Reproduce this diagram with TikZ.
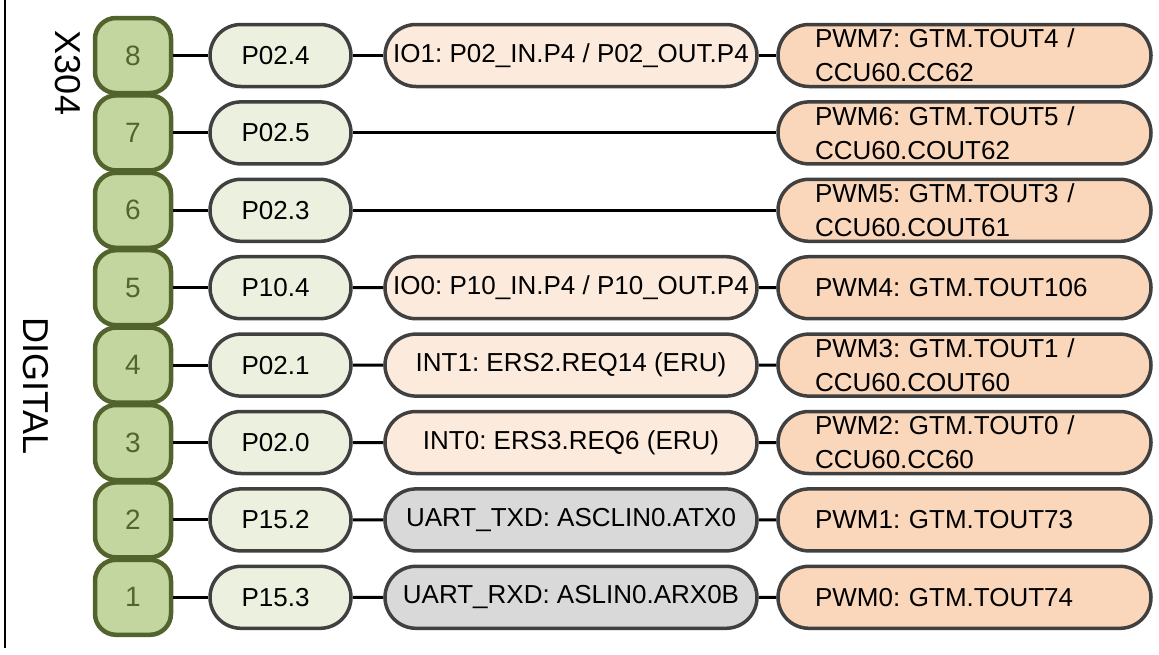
\documentclass[tikz,border=0pt]{standalone}
\usepackage{fontspec}
\setmainfont{Liberation Sans}
\frenchspacing
\definecolor{pinfill}{RGB}{196,214,160}
\definecolor{pindraw}{RGB}{82,99,46}
\definecolor{pintext}{RGB}{84,100,46}
\definecolor{portfill}{RGB}{235,241,222}
\definecolor{iofill}{RGB}{252,235,220}
\definecolor{pwmfill}{RGB}{250,215,187}
\definecolor{uartfill}{RGB}{217,217,217}
\definecolor{boxdraw}{RGB}{64,64,64}
\tikzset{
  pin/.style={draw=pindraw, line width=4.5pt, fill=pinfill, rounded corners=21pt,
    minimum width=76pt, minimum height=75pt, inner sep=0pt, text=pintext,
    font=\fontsize{28}{30}\selectfont},
  pill/.style={draw=boxdraw, line width=3.5pt, rounded corners=31pt,
    minimum height=62pt, inner sep=0pt, font=\fontsize{26}{34}\selectfont},
  portbox/.style={pill, fill=portfill, minimum width=141pt},
  funcbox/.style={pill, fill=iofill, minimum width=372pt},
  uartbox/.style={pill, fill=uartfill, minimum width=372pt},
  pwmbox/.style={pill, fill=pwmfill, minimum width=373pt, text width=299pt,
    align=left, inner xsep=0pt},
  wire/.style={line width=3pt},
  side/.style={font=\fontsize{36}{40}\selectfont, rotate=-90}
}
\begin{document}
\begin{tikzpicture}[x=1pt, y=-1pt]
\useasboundingbox (0,0) rectangle (1159,654);
\draw[line width=2.6pt] (5,0) -- (5,648);
\node[side] (x304) at (68,73) {X304};
\node[side] (digital) at (36,386) {DIGITAL};

% one row per connector pin: pin, port, optional function, PWM
\foreach \n/\port/\pwm [count=\i from 0] in {
  8/P02.4/{PWM7: GTM.TOUT4 /\\CCU60.CC62},
  7/P02.5/{PWM6: GTM.TOUT5 /\\CCU60.COUT62},
  6/P02.3/{PWM5: GTM.TOUT3 /\\CCU60.COUT61},
  5/P10.4/{PWM4: GTM.TOUT106},
  4/P02.1/{PWM3: GTM.TOUT1 /\\CCU60.COUT60},
  3/P02.0/{PWM2: GTM.TOUT0 /\\CCU60.CC60},
  2/P15.2/{PWM1: GTM.TOUT73},
  1/P15.3/{PWM0: GTM.TOUT74}} {
  \pgfmathsetmacro{\yy}{55.5+77.4*\i}
  \node[pin] (pin\n) at (133,\yy) {\n};
  \node[portbox] (port\n) at (280.5,\yy) {\hspace{-10pt}\port};
  \node[pwmbox] (pwm\n) at (964.5,\yy) {\pwm};
  \draw[wire] (pin\n.east) -- (port\n.west);
}

\node[funcbox] (fn8) at (571,55.5) {IO1: P02\_IN.P4 / P02\_OUT.P4};
\node[funcbox] (fn5) at (571,287.7) {IO0: P10\_IN.P4 / P10\_OUT.P4};
\node[funcbox] (fn4) at (571,365.1) {INT1: ERS2.REQ14 (ERU)};
\node[funcbox] (fn3) at (571,442.5) {INT0: ERS3.REQ6 (ERU)};
\node[uartbox] (fn2) at (571,519.9) {UART\_TXD: ASCLIN0.ATX0};
\node[uartbox] (fn1) at (571,597.3) {UART\_RXD: ASLIN0.ARX0B};

\foreach \n in {8,5,4,3,2,1} {
  \draw[wire] (port\n.east) -- (fn\n.west);
  \draw[wire] (fn\n.east) -- (pwm\n.west);
}
\foreach \n in {7,6} {
  \draw[wire] (port\n.east) -- (pwm\n.west);
}
\end{tikzpicture}
\end{document}
